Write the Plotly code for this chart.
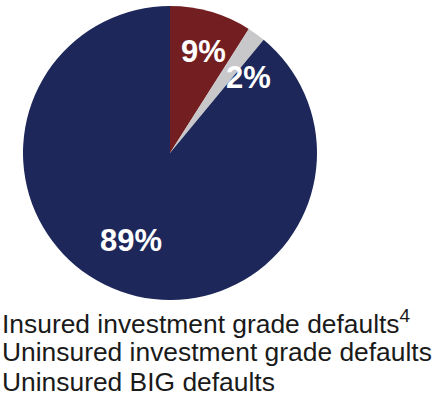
import math
import plotly.graph_objects as go

labels = ["Insured investment grade defaults", "Uninsured investment grade defaults", "Uninsured BIG defaults"]
legend_text = ["Insured investment grade defaults<sup><span style='font-size:19px'>4</span></sup>",
               "Uninsured investment grade defaults", "Uninsured BIG defaults"]
values = [9, 2, 89]
colors = ["#731F21", "#C8C8CA", "#1E275A"]

W, H = 433, 403
cx, cy, R = 170, 153, 147

fig = go.Figure(go.Pie(
    labels=labels, values=values, sort=False, direction="clockwise", rotation=0,
    marker=dict(colors=colors, line=dict(width=0)),
    textinfo="none", hoverinfo="label+percent", showlegend=False,
    domain=dict(x=[(cx - R) / W, (cx + R) / W], y=[1 - (cy + R) / H, 1 - (cy - R) / H]),
))

# percentage labels placed along each slice's mid angle
rfac = [0.73, 0.74, 0.65]
aoff = [2, 10, 4]
total = sum(values)
cum = 0
anns = []
for i, v in enumerate(values):
    mid = (cum + v / 2) / total * 360 + aoff[i]
    cum += v
    r = R * rfac[i]
    px = cx + r * math.sin(math.radians(mid))
    py = cy - r * math.cos(math.radians(mid))
    anns.append(dict(x=px / W, y=1 - py / H, xref="paper", yref="paper",
                     xanchor="center", yanchor="middle",
                     text=f"<b>{v}%</b>", showarrow=False,
                     font=dict(family="Liberation Sans, Arial", size=31, color="white")))

for j, t in enumerate(legend_text):
    anns.append(dict(x=0, y=1 - (322 + 30 * j) / H, xref="paper", yref="paper",
                     xanchor="left", yanchor="middle", text=t, showarrow=False,
                     font=dict(family="Liberation Sans, Arial", size=26.4, color="#1a1a1a")))

fig.update_layout(width=W, height=H, margin=dict(l=0, r=0, t=0, b=0),
                  paper_bgcolor="white", plot_bgcolor="white", annotations=anns)
fig.write_html("out.html")
